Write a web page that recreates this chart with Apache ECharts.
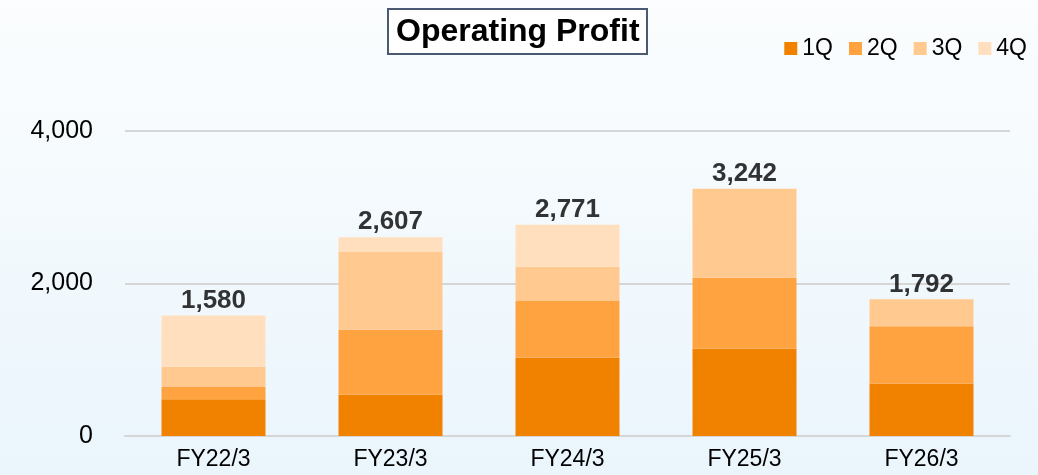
<!DOCTYPE html>
<html>
<head>
<meta charset="utf-8">
<script src="https://cdn.jsdelivr.net/npm/echarts@6/dist/echarts.min.js"></script>
<style>
  html, body { margin: 0; padding: 0; }
  #chart { width: 1038px; height: 475px; }
</style>
</head>
<body>
<div id="chart"></div>
<script>
  // 営業利益 (四半期積み上げ)
  var years = ['FY22/3', 'FY23/3', 'FY24/3', 'FY25/3', 'FY26/3'];
  var q1 = [483, 540, 1026, 1145, 690];
  var q2 = [158, 855, 746, 930, 750];
  var q3 = [267, 1026, 447, 1167, 352];
  var q4 = [672, 186, 552, null, null];
  var totals = [1580, 2607, 2771, 3242, 1792];
  var yTicks = [0, 2000, 4000];

  var colors = ['#F08200', '#FFA340', '#FFC990', '#FFDFBD'];

  function fmt(v) {
    return String(v).replace(/\B(?=(\d{3})+(?!\d))/g, ',');
  }

  var chart = echarts.init(document.getElementById('chart'));

  function qSeries(name, data, i) {
    return {
      name: name,
      type: 'bar',
      stack: 'op',
      barWidth: 104,
      itemStyle: {color: colors[i]},
      data: data
    };
  }

  var option = {
    backgroundColor: {
      type: 'linear', x: 0, y: 0, x2: 0, y2: 1,
      colorStops: [{offset: 0, color: '#FBFDFE'}, {offset: 1, color: '#EAF5FC'}]
    },
    textStyle: {fontFamily: 'Liberation Sans, Arial, sans-serif'},
    title: {
      text: 'Operating Profit',
      left: 388,
      top: 9,
      padding: [7, 8, 6, 8],
      backgroundColor: '#FFFFFF',
      borderColor: '#4B5A72',
      borderWidth: 2,
      textStyle: {fontSize: 32, fontWeight: 'bold', color: '#000', fontFamily: 'Liberation Sans, Arial, sans-serif'}
    },
    legend: {
      data: ['1Q', '2Q', '3Q', '4Q'],
      right: 6,
      top: 32,
      itemWidth: 13,
      itemHeight: 13,
      itemGap: 16,
      icon: 'rect',
      textStyle: {fontSize: 23, color: '#000', fontFamily: 'Liberation Sans, Arial, sans-serif'}
    },
    grid: {left: 125, right: 28, top: 131, bottom: 39},
    xAxis: {
      type: 'category',
      data: years,
      axisLine: {lineStyle: {color: '#D6D6D6', width: 2}},
      axisTick: {show: false},
      axisLabel: {fontSize: 23, color: '#000', margin: 12}
    },
    yAxis: {
      type: 'value',
      min: yTicks[0],
      max: yTicks[yTicks.length - 1],
      interval: yTicks[1] - yTicks[0],
      axisLine: {show: false},
      axisTick: {show: false},
      splitLine: {lineStyle: {color: '#D6D6D6', width: 2}},
      axisLabel: {fontSize: 25, color: '#000', margin: 32, formatter: fmt}
    },
    series: [
      qSeries('1Q', q1, 0),
      qSeries('2Q', q2, 1),
      qSeries('3Q', q3, 2),
      qSeries('4Q', q4, 3),
      {
        name: 'total',
        type: 'scatter',
        symbolSize: 0,
        data: totals,
        label: {
          show: true,
          position: 'top',
          distance: 2,
          fontSize: 26,
          fontWeight: 'bold',
          color: '#000',
          formatter: function (p) { return fmt(p.value); }
        }
      }
    ]
  };

  chart.setOption(option);
  window.addEventListener('resize', function () {
    chart.resize();
  });
</script>
</body>
</html>
